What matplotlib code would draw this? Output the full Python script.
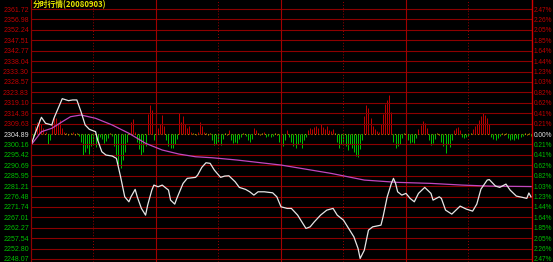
import matplotlib
matplotlib.use("Agg")
import matplotlib.pyplot as plt

# Подписи шкал (как на картинке)
price_labels = ['2361.72', '2356.98', '2352.24', '2347.51', '2342.77', '2338.04', '2333.30',
                '2328.57', '2323.83', '2319.10', '2314.36', '2309.63', '2304.89', '2300.16',
                '2295.42', '2290.69', '2285.95', '2281.21', '2276.48', '2271.74', '2267.01',
                '2262.27', '2257.54', '2252.80', '2248.07']
pct_labels = ['2.47%', '2.26%', '2.05%', '1.85%', '1.64%', '1.44%', '1.23%', '1.03%', '0.82%',
              '0.62%', '0.41%', '0.21%', '0.00%', '0.21%', '0.41%', '0.62%', '0.82%', '1.03%',
              '1.23%', '1.44%', '1.64%', '1.85%', '2.05%', '2.26%', '2.47%']
prev_close = 2304.89

# Цена (минута, значение)
price_min = [0, 2, 5, 7, 10, 11, 15, 18, 20, 22, 24, 26, 28, 31, 32, 34, 36, 39, 41, 43, 45, 47,
             48, 50, 51, 53, 55, 56, 58, 59, 61, 63, 66, 67, 69, 70, 73, 75, 79, 80, 82, 84, 86,
             88, 91, 93, 95, 98, 100, 103, 105, 107, 109, 112, 116, 118, 120, 123, 125, 128, 130,
             132, 134, 136, 139, 142, 145, 147, 150, 152, 155, 157, 158, 160, 162, 164, 168, 169,
             171, 173, 174, 175, 176, 178, 180, 182, 184, 186, 189, 192, 193, 196, 197, 199, 202,
             206, 209, 212, 214, 216, 219, 220, 223, 225, 228, 230, 233, 236, 238, 239, 240]
price_val = [2299.88, 2305.21, 2312.49, 2309.76, 2308.99, 2312.04, 2320.96, 2320.05, 2320.37,
             2320.37, 2315.04, 2308.99, 2307.03, 2305.94, 2302.16, 2296.83, 2295.33, 2294.87,
             2293.83, 2285.45, 2276.34, 2274.07, 2276.34, 2279.71, 2276.34, 2271.06, 2268.01,
             2272.56, 2279.39, 2281.67, 2280.90, 2281.67, 2279.39, 2274.84, 2273.02, 2275.61,
             2282.44, 2284.72, 2285.18, 2286.22, 2289.73, 2291.82, 2291.55, 2288.50, 2285.18,
             2285.77, 2285.90, 2283.17, 2280.62, 2279.71, 2278.62, 2277.12, 2278.62, 2278.62,
             2278.16, 2276.34, 2271.79, 2271.06, 2271.06, 2268.01, 2264.96, 2261.96, 2262.68,
             2264.96, 2268.01, 2270.29, 2271.06, 2268.01, 2265.73, 2262.68, 2258.13, 2252.85,
             2248.30, 2252.08, 2261.18, 2262.68, 2263.46, 2267.24, 2276.34, 2282.44, 2284.72,
             2282.44, 2278.62, 2277.12, 2277.89, 2275.61, 2274.07, 2277.89, 2280.62, 2277.89,
             2274.84, 2276.34, 2275.61, 2270.29, 2268.47, 2272.11, 2270.74, 2269.83, 2273.02,
             2279.85, 2283.95, 2284.17, 2281.21, 2280.62, 2282.12, 2279.39, 2276.66, 2276.07,
             2275.61, 2278.07, 2276.34]

# Средняя цена
avg_min = [0, 5, 10, 15, 19, 24, 31, 39, 47, 55, 63, 71, 79, 87, 99, 120, 144, 160, 176, 192,
           207, 220, 240]
avg_val = [2299.88, 2305.94, 2307.49, 2310.49, 2312.77, 2313.54, 2312.04, 2308.99, 2305.21,
           2300.66, 2297.61, 2295.78, 2294.55, 2294.10, 2293.05, 2290.78, 2287.00, 2283.95,
           2282.90, 2282.44, 2281.67, 2281.21, 2281.00]

# Столбики (по минутам 0..240), красные вверх, зеленые вниз
bars = [-6, -4, 8, 12, 15, 10, 6, 2, -10, -6,
        12, 19, 16, 10, 14, 6, 2, 1, -1, 1,
        2, -1, 1, -2, -8, -21, -18, -14, -20, -12,
        -10, -13, -6, -3, -5, -9, -7, -4, 1, -2,
        -12, -22, -30, -34, -26, -18, -8, 1, 12, 15,
        2, -8, -15, -21, -18, -12, 20, 29, 24, -6,
        9, 6, 10, 19, 8, -6, -12, -14, -14, -10,
        -5, 21, 12, 18, 10, 6, 8, 2, 1, -1,
        2, 12, 8, 2, 1, -1, 1, -6, -11, -10,
        -8, -11, -5, 1, -1, 4, -6, -9, -8, -9,
        -5, -3, 1, -2, -6, -8, -5, 6, 4, 1,
        -1, 1, 2, -3, -2, -3, -2, 1, -1, -8,
        -16, -12, -6, 4, -3, -8, -12, -14, -10, -8,
        -14, -6, -3, 4, 6, 5, 7, 8, 6, 10,
        7, 5, 8, 4, 3, 5, 1, -8, -14, -10,
        -9, -12, -16, -10, -14, -18, -22, -23, -15, -6,
        18, 29, 26, 16, 8, 5, 3, 2, 10, 20,
        30, 34, 39, 22, -8, -14, -12, -10, -4, 1,
        -1, -6, -9, -8, -9, -4, 5, 9, 13, 11,
        6, -6, -11, -9, -5, 1, -1, -8, -12, -19,
        -10, -13, -6, 4, 6, 7, 4, -3, -4, -3,
        -2, 1, 5, 8, 10, 14, 18, 21, 19, 16,
        10, -3, -5, -6, -4, -2, 1, -1, 1, -4,
        -6, -5, -6, -4, -5, -3, -2, 1, -1, 1,
        -2]

RED = '#c00000'
GREEN = '#00c000'
GRID = '#8c0000'
LBL_FONT = 'Liberation Sans'

fig = plt.figure(figsize=(5.53, 2.62), dpi=100, facecolor='black')
ax2 = fig.add_axes([31 / 553, 0, 501 / 553, 1])
ax = ax2.twinx()
ax.set_zorder(ax2.get_zorder() + 1)
ax.patch.set_visible(False)
ax2.set_facecolor('black')

# столбики
minutes = list(range(len(bars)))
bar_colors = [('#c89000' if abs(b) <= 1 else (RED if b > 0 else GREEN)) for b in bars]
ax2.vlines(minutes, 0, bars, colors=bar_colors, linewidth=0.7)
ax2.set_ylim(-128, 134)
ax2.set_xlim(0, 240.5)
ax2.set_yticks([])
ax2.set_xticks([])

# сетка
levels = [float(s) for s in price_labels]
for lv in levels:
    if lv == prev_close:
        ax2.axhline(0, color='#c89000', linewidth=0.8, linestyle=(0, (1, 2)), zorder=0)
    else:
        ax.axhline(lv, color=GRID, linewidth=0.8, zorder=0)
for m in [30, 90, 150, 210]:
    ax.axvline(m, color='#a00000', linewidth=0.7, linestyle=(0, (1, 2)), zorder=0)
for m in [60, 120, 180]:
    ax.axvline(m, color='#a00000', linewidth=0.8, zorder=0)

# линии цены
ax.plot(avg_min, avg_val, color='#c048c0', linewidth=0.9)
ax.plot(price_min, price_val, color='#e6e6e6', linewidth=0.9)

ax.set_ylim(2246.70, 2365.82)
ax.set_xlim(0, 240.5)

# левая шкала
ax.yaxis.set_ticks_position('left')
ax.set_yticks(levels, price_labels)
ax.tick_params(axis='y', length=0, pad=1.5, labelsize=5.0, labelleft=True, labelright=False)
for t, lv in zip(ax.get_yticklabels(), levels):
    t.set_color('#e0e0e0' if lv == prev_close else (RED if lv > prev_close else GREEN))
    t.set_family(LBL_FONT)

# правая шкала
sec = ax.secondary_yaxis('right')
sec.set_yticks(levels, pct_labels)
sec.tick_params(axis='y', length=0, pad=1, labelsize=4.7)
for t, lv in zip(sec.get_yticklabels(), levels):
    t.set_color('#e0e0e0' if lv == prev_close else (RED if lv > prev_close else GREEN))
    t.set_family(LBL_FONT)
sec.spines['right'].set_color('#d00000')
sec.spines['right'].set_linewidth(1.0)

for a in (ax, ax2):
    for s in ['top', 'bottom', 'right']:
        a.spines[s].set_visible(False)
    a.spines['left'].set_color(GRID)
ax.set_xticks([])

# заголовок
ax.text(0.004, 0.998, '分时行情(20080903)', transform=ax.transAxes, ha='left', va='top',
        color='#e6e600', fontsize=5.6, fontweight='bold',
        family=['Noto Sans CJK SC', 'DejaVu Sans'])

fig.savefig('out.png', dpi=100, facecolor='black')
